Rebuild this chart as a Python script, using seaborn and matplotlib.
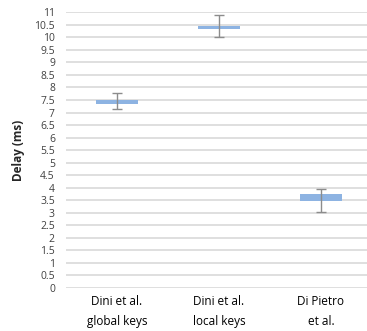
import numpy as np
import pandas as pd
import matplotlib
matplotlib.use("Agg")
import matplotlib.pyplot as plt
from matplotlib.ticker import MultipleLocator, FuncFormatter
import seaborn as sns

categories = ["Dini et al.\nglobal keys", "Dini et al.\nlocal keys", "Di Pietro\net al."]
low = [7.13, 10.02, 3.04]
high = [7.80, 10.88, 3.96]
box_low = [7.35, 10.32, 3.47]
box_high = [7.50, 10.44, 3.76]

sns.set_style("white")
plt.rcParams['font.family'] = ['Open Sans', 'DejaVu Sans']

fig = plt.figure(figsize=(3.67, 3.31), dpi=100)
ax = fig.add_axes([66/367, 43/331, 306/367, 275.7/331])

df = pd.DataFrame({
    "cat": categories,
    "height": np.array(box_high) - np.array(box_low),
})
sns.barplot(data=df, x="cat", y="height", bottom=box_low, color="#8db3e2",
            saturation=1, width=0.41, linewidth=0, edgecolor="none",
            ax=ax, zorder=3)

xs = np.arange(len(categories))
mid = (np.array(high) + np.array(low)) / 2
err = (np.array(high) - np.array(low)) / 2
ax.errorbar(xs, mid, yerr=err, fmt="none", ecolor="#8c8c8c", elinewidth=1.0,
            capsize=3.5, capthick=1.0, zorder=4)

ax.set_ylim(0, 11)
ax.set_xlim(-0.5, 2.5)
ax.yaxis.set_major_locator(MultipleLocator(0.5))
ax.yaxis.set_major_formatter(FuncFormatter(lambda v, p: f"{v:g}"))
ax.grid(axis="y", color="#d9d9d9", linewidth=1.2, zorder=0)
ax.set_axisbelow(True)
for s in ax.spines.values():
    s.set_visible(False)
ax.tick_params(axis="y", length=0, pad=8, labelsize=7.5, labelcolor="#404040")
ax.tick_params(axis="x", length=0, pad=5, labelsize=8.5, labelcolor="#000000")
for lab in ax.get_xticklabels():
    lab.set_linespacing(1.75)
ax.set_xlabel("")
ax.set_ylabel("Delay (ms)", fontsize=8.5, fontweight="bold", labelpad=7)

fig.savefig("out.png", dpi=100)
